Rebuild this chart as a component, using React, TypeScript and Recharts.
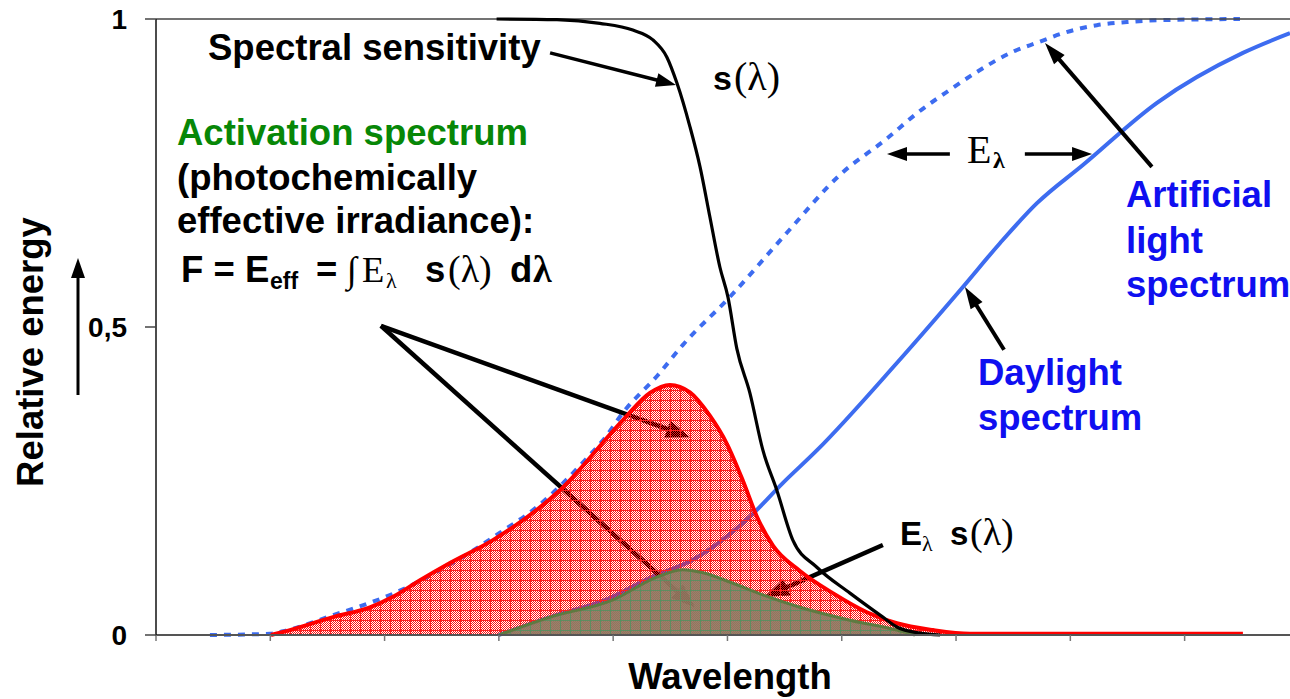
import { ComposedChart, Line, Area, XAxis, YAxis, ReferenceLine } from 'recharts'

const SANS = '"Liberation Sans", Arial, Helvetica, sans-serif'
const SERIF = '"Liberation Serif", "Times New Roman", "DejaVu Serif", serif'

// wavelength axis (nm) and relative energy axis
const xTicks = [250, 300, 350, 400, 450, 500, 550, 600, 650, 700]
const yTicks = [0, 0.5, 1]

// spectral sensitivity s(λ)
const sensX = [399, 425.4, 444.2, 458.6, 467.4, 473.5, 477.9, 483.6, 488, 492.3, 496.7, 500.2, 504.1, 509.8, 515.5, 521.6, 528.6, 539.1, 553.6, 568, 574.1, 584.2, 593]
const sensY = [1, 0.999, 0.993, 0.982, 0.966, 0.938, 0.896, 0.825, 0.76, 0.679, 0.597, 0.549, 0.465, 0.393, 0.3, 0.235, 0.154, 0.11, 0.068, 0.029, 0.013, 0.003, 0]

// artificial light spectrum (dotted)
const artX = [273.6, 299.9, 305.6, 327.4, 353.7, 384.3, 400.5, 416.7, 438.5, 446.4, 454.3, 469.6, 480.5, 501.1, 526, 549.2, 569.8, 582.9, 597.3, 609.1, 624.9, 635.8, 646.8, 661.6, 674.8, 687.9, 724.2]
const artY = [0, 0.002, 0.006, 0.032, 0.067, 0.127, 0.166, 0.208, 0.287, 0.32, 0.361, 0.422, 0.471, 0.549, 0.653, 0.747, 0.806, 0.847, 0.885, 0.914, 0.947, 0.962, 0.977, 0.99, 0.995, 0.998, 1]

// daylight spectrum (solid)
const dayX = [400, 422.4, 448.6, 466.1, 484.9, 509.8, 524.3, 539.2, 574.2, 603, 619.2, 635.4, 655.5, 687.9, 725.5, 746.1]
const dayY = [0, 0.029, 0.06, 0.093, 0.122, 0.192, 0.247, 0.3, 0.442, 0.565, 0.636, 0.701, 0.763, 0.864, 0.945, 0.977]

// activation spectrum (red area)
const actX = [300.3, 305.6, 327.4, 343.6, 353.7, 365.5, 378.6, 397.4, 426.7, 454.3, 466.1, 474.8, 483.6, 492.3, 499.8, 506.8, 512.9, 519.9, 531.7, 546.1, 561, 574.1, 589.9, 606.1, 725.5]
const actY = [0, 0.005, 0.029, 0.045, 0.062, 0.089, 0.117, 0.154, 0.235, 0.349, 0.393, 0.406, 0.394, 0.356, 0.31, 0.25, 0.192, 0.145, 0.104, 0.068, 0.037, 0.019, 0.008, 0.002, 0.002]

// E_λ s(λ) (green area)
const effX = [400, 422.4, 449.9, 469.1, 480.5, 489.3, 502.4, 515.5, 531.7, 553.6, 574.2, 582]
const effY = [0, 0.029, 0.057, 0.094, 0.106, 0.101, 0.084, 0.065, 0.045, 0.024, 0.008, 0]

const toPoints = (xs: number[], ys: number[]) => xs.map((x, i) => ({ x, y: ys[i] }))

// annotation arrows in data units: tail -> tip
const underArrows = [
  { from: [348.4, 0.502], to: [483.6, 0.321] },
  { from: [348.4, 0.502], to: [485.8, 0.045] },
  { from: [568, 0.146], to: [516.4, 0.062] },
]
const overArrows = [
  { from: [422.4, 0.945], to: [477.5, 0.893], w: 3.5, head: 20, hw: 14 },
  { from: [597.3, 0.781], to: [569.8, 0.781], w: 3.5, head: 20, hw: 14 },
  { from: [630.1, 0.781], to: [659.5, 0.781], w: 3.5, head: 20, hw: 14 },
  { from: [685.7, 0.76], to: [638.9, 0.961], w: 4, head: 22, hw: 14 },
  { from: [621, 0.463], to: [603.9, 0.565], w: 4, head: 22, hw: 14 },
]

const arrowShape = (color: string, w: number, head: number, hw: number) => (p: any) => {
  const { x1, y1, x2, y2 } = p
  const dx = x2 - x1
  const dy = y2 - y1
  const len = Math.sqrt(dx * dx + dy * dy) || 1
  const ux = dx / len
  const uy = dy / len
  const bx = x2 - ux * head
  const by = y2 - uy * head
  const px = -uy * hw / 2
  const py = ux * hw / 2
  return (
    <g>
      <line x1={x1} y1={y1} x2={bx + ux} y2={by + uy} stroke={color} strokeWidth={w} />
      <polygon points={`${x2},${y2} ${bx + px},${by + py} ${bx - px},${by - py}`} fill={color} />
    </g>
  )
}

const Patterns = () => (
  <defs>
    <pattern id="chkRed" width="2" height="2" patternUnits="userSpaceOnUse">
      <rect x="0" y="0" width="1" height="1" fill="#ff1010" />
      <rect x="1" y="1" width="1" height="1" fill="#ff1010" />
    </pattern>
    <pattern id="redFill" width="10" height="10" patternUnits="userSpaceOnUse">
      <rect width="10" height="10" fill="url(#chkRed)" />
      <path d="M0 0.5H10M0.5 0V10" stroke="#ff2020" strokeWidth="1" />
    </pattern>
    <pattern id="greenFill" width="10" height="10" patternUnits="userSpaceOnUse">
      <rect width="10" height="10" fill="#8e7a62" fillOpacity="0.92" />
      <path d="M0 0.5H10M0.5 0V10" stroke="#4c9460" strokeWidth="1" strokeOpacity="0.75" />
    </pattern>
  </defs>
)

export default function App() {
  const tickFmt = (v: number) => (v === 0.5 ? '0,5' : String(v))
  return (
    <div style={{ position: 'absolute', left: 0, top: 0, width: 1290, height: 699, background: '#fff' }}>
      <ComposedChart width={1290} height={699} margin={{ top: 19, right: 0, bottom: 0, left: 0 }}>
        {Patterns()}
        <XAxis
          type="number"
          dataKey="x"
          domain={[250, 746.1]}
          allowDataOverflow
          ticks={xTicks}
          tickFormatter={() => ''}
          tickSize={6}
          height={64}
          axisLine={{ stroke: '#555', strokeWidth: 2 }}
          tickLine={{ stroke: '#777', strokeWidth: 1.5 }}
        />
        <YAxis
          type="number"
          domain={[0, 1]}
          ticks={yTicks}
          tickFormatter={tickFmt}
          width={156}
          tickSize={11}
          tickMargin={18}
          axisLine={{ stroke: '#111', strokeWidth: 1.5 }}
          tickLine={{ stroke: '#444', strokeWidth: 1.5 }}
          tick={{ fontSize: 28, fontWeight: 700, fill: '#000', fontFamily: SANS }}
        />
        <ReferenceLine y={1} stroke="#444" strokeWidth={1.5} />
        <Line data={toPoints(artX, artY)} dataKey="y" type="monotone" stroke="#3d6cf0" strokeWidth={4} strokeDasharray="7 7" dot={false} activeDot={false} isAnimationActive={false} zIndex={40} />
        <Line data={toPoints(dayX, dayY)} dataKey="y" type="monotone" stroke="#3d6cf0" strokeWidth={4} dot={false} activeDot={false} isAnimationActive={false} zIndex={40} />
        {underArrows.map((a, i) => (
          <ReferenceLine
            key={'u' + i}
            segment={[{ x: a.from[0], y: a.from[1] }, { x: a.to[0], y: a.to[1] }]}
            shape={arrowShape('#000', 4.5, 24, 18)}
            zIndex={60}
          />
        ))}
        <Area data={toPoints(actX, actY)} dataKey="y" type="monotone" stroke="#ff0000" strokeWidth={4} fill="url(#redFill)" fillOpacity={1} dot={false} activeDot={false} isAnimationActive={false} zIndex={100} />
        <Area data={toPoints(effX, effY)} dataKey="y" type="monotone" stroke="#5e7a40" strokeWidth={3} fill="url(#greenFill)" fillOpacity={1} dot={false} activeDot={false} isAnimationActive={false} zIndex={110} />
        <Line data={toPoints(sensX, sensY)} dataKey="y" type="monotone" stroke="#000" strokeWidth={3.2} dot={false} activeDot={false} isAnimationActive={false} zIndex={400} />
        {overArrows.map((a, i) => (
          <ReferenceLine
            key={'o' + i}
            segment={[{ x: a.from[0], y: a.from[1] }, { x: a.to[0], y: a.to[1] }]}
            shape={arrowShape('#000', a.w, a.head, a.hw)}
            zIndex={500}
          />
        ))}
      </ComposedChart>
      <svg width={1290} height={699} style={{ position: 'absolute', left: 0, top: 0, pointerEvents: 'none' }}>
        <g fontFamily={SANS} fontWeight={700} fontSize={36.5}>
          <text x={208} y={60} fill="#000">Spectral sensitivity</text>
          <text y={90} fontSize={34} fill="#000">
            <tspan x={713}>s</tspan>
            <tspan x={734} fontFamily={SERIF} fontWeight={400} fontSize={40}>(λ)</tspan>
          </text>
          <text x={177} y={145} fill="#078707">Activation spectrum</text>
          <text x={177} y={190} fill="#000">(photochemically</text>
          <text x={177} y={233} fill="#000">effective irradiance):</text>
          <text y={282} fill="#000">
            <tspan x={181}>F = E</tspan>
            <tspan x={270} fontSize={23} dy={7}>eff</tspan>
            <tspan x={316} dy={-7}>=</tspan>
            <tspan x={347} fontFamily={SERIF} fontWeight={400}>∫</tspan>
            <tspan x={362} fontFamily={SERIF} fontWeight={400}>E</tspan>
            <tspan x={386} fontFamily={SERIF} fontWeight={400} fontSize={22} dy={6}>λ</tspan>
            <tspan x={425} dy={-6}>s</tspan>
            <tspan x={448} fontFamily={SERIF} fontWeight={400} fontSize={38}>(λ)</tspan>
            <tspan x={510}>d</tspan>
            <tspan x={533} fontFamily={SERIF} fontSize={38}>λ</tspan>
          </text>
          <text y={163} fontFamily={SERIF} fontWeight={400} fill="#000">
            <tspan x={967} fontSize={40}>E</tspan>
            <tspan x={993} fontSize={24} fontWeight={700} dy={5}>λ</tspan>
          </text>
          <text x={1126} y={207} fill="#0f0ff0">Artificial</text>
          <text x={1126} y={253} fill="#0f0ff0">light</text>
          <text x={1126} y={297} fill="#0f0ff0">spectrum</text>
          <text x={978} y={385} fill="#0f0ff0">Daylight</text>
          <text x={978} y={430} fill="#0f0ff0">spectrum</text>
          <text y={545} fontSize={33} fill="#000">
            <tspan x={900}>E</tspan>
            <tspan x={922} fontFamily={SERIF} fontWeight={400} fontSize={22} dy={6}>λ</tspan>
            <tspan x={950} dy={-6}>s</tspan>
            <tspan x={970} fontFamily={SERIF} fontWeight={400} fontSize={38}>(λ)</tspan>
          </text>
          <text x={730} y={689} textAnchor="middle" fill="#000">Wavelength</text>
          <text x={43} y={352} textAnchor="middle" transform="rotate(-90 43 352)" fill="#000">Relative energy</text>
        </g>
        <line x1={78} y1={395} x2={78} y2={276} stroke="#000" strokeWidth={3} />
        <polygon points="78,258 71,278 85,278" fill="#000" />
      </svg>
    </div>
  )
}
